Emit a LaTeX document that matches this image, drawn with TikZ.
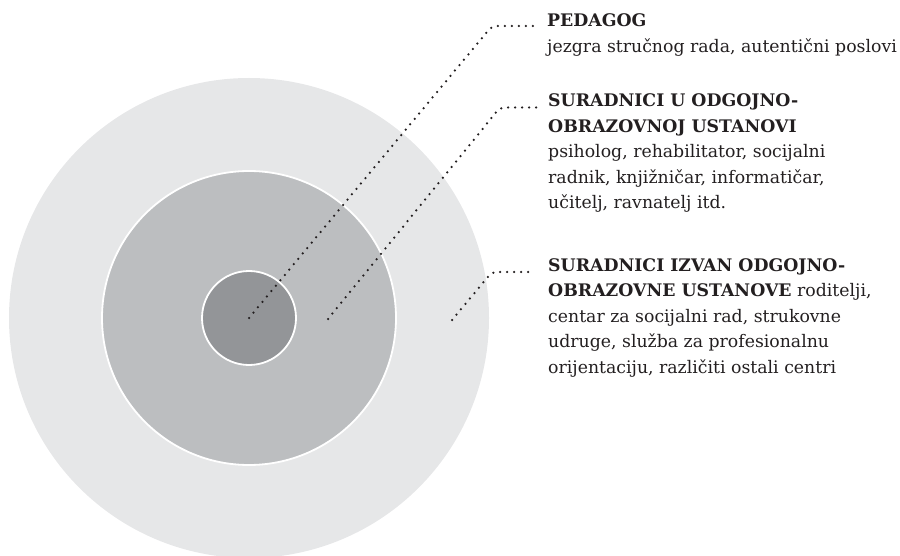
\documentclass[tikz,border=0pt]{standalone}
\usepackage{fontspec}
\setmainfont{DejaVu Serif}
\usetikzlibrary{positioning}
\definecolor{ringOuter}{HTML}{E6E7E8}
\definecolor{ringMiddle}{HTML}{BCBEC0}
\definecolor{ringInner}{HTML}{939598}
\definecolor{dotInk}{HTML}{231F20}

\begin{document}
\begin{tikzpicture}[
  x=1pt, y=-1pt,
  ring/.style={circle, inner sep=0pt, outer sep=0pt},
  caption/.style={anchor=base west, inner sep=0pt, align=left, text=dotInk, font=\fontsize{17.3}{25.5}\selectfont},
  leader/.style={draw=dotInk, line width=2.5pt, line cap=round, dash pattern=on 0pt off 7pt, rounded corners=5pt}
]
\useasboundingbox (0,0) rectangle (900,556);

\node (outer) [ring, fill=ringOuter, minimum size=480pt] at (249,318) {};
\node (middle) [ring, fill=ringMiddle, draw=white, line width=1.8pt, minimum size=294pt] at (outer.center) {};
\node (inner) [ring, fill=ringInner, draw=white, line width=1.8pt, minimum size=94pt] at (outer.center) {};

% captions are placed by the baseline of their last line
\node (pedagog) [caption] at (547,52.5) {\textbf{PEDAGOG}\\jezgra stručnog rada, autentični poslovi};
\node (unutar) [caption] at (548,209) {\textbf{SURADNICI U ODGOJNO-}\\\textbf{OBRAZOVNOJ USTANOVI}\\psiholog, rehabilitator, socijalni\\radnik, knjižničar, informatičar,\\učitelj, ravnatelj itd.};
\node (izvan) [caption] at (548,373) {\textbf{SURADNICI IZVAN ODGOJNO-}\\\textbf{OBRAZOVNE USTANOVE} roditelji,\\centar za socijalni rad, strukovne\\udruge, služba za profesionalnu\\orijentaciju, različiti ostali centri};

\coordinate (innerDot) at (inner.center);
\coordinate (middleDot) at (328,319);
\coordinate (outerDot) at (452,320);
\coordinate (pedagogBend) at (492,26);
\coordinate (unutarBend) at (500,107.5);
\coordinate (izvanBend) at (492,272);
\path (pedagogBend -| pedagog.west) coordinate (pedagogTip);
\path (unutarBend -| unutar.west) coordinate (unutarTip);
\path (izvanBend -| izvan.west) coordinate (izvanTip);

\draw [leader] (innerDot) -- (pedagogBend) -- ([xshift=-14pt]pedagogTip);
\draw [leader] (middleDot) -- (unutarBend) -- ([xshift=-7pt]unutarTip);
\draw [leader] (outerDot) -- (izvanBend) -- ([xshift=-13pt]izvanTip);

\end{tikzpicture}
\end{document}
